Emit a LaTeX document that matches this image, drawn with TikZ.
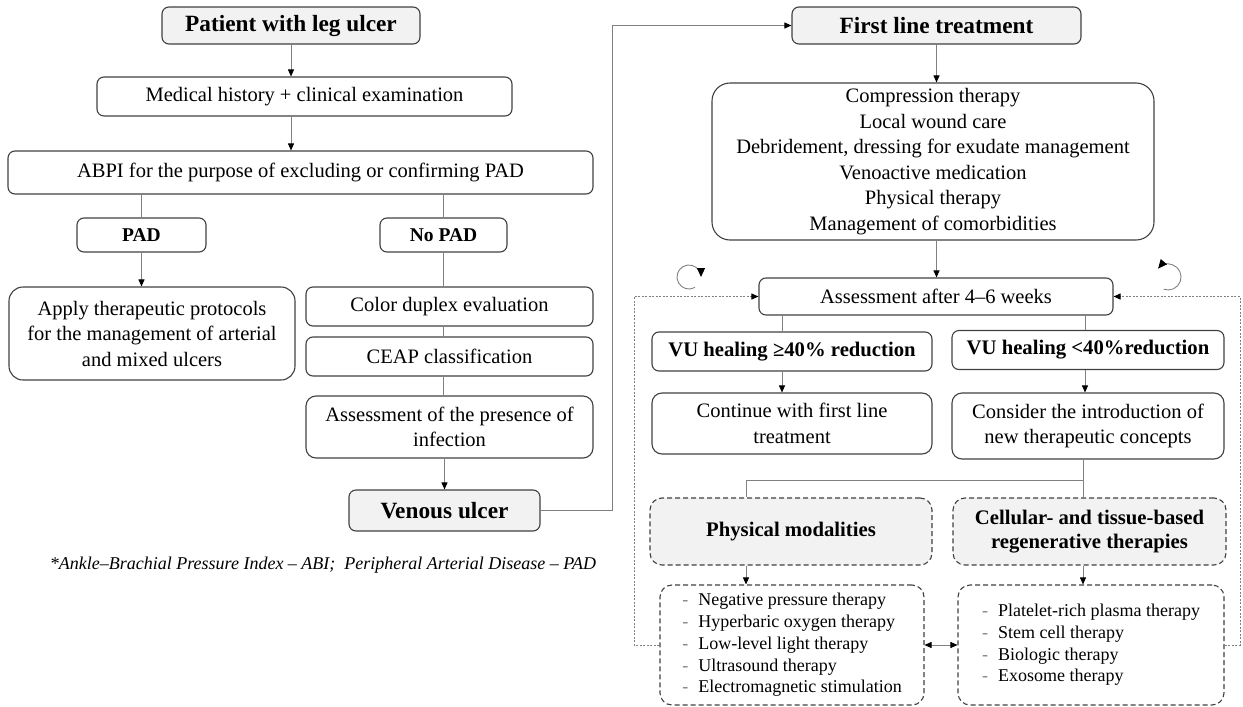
\documentclass[tikz,border=0pt]{standalone}
\usepackage{fontspec}
\setmainfont{Liberation Serif}
\usetikzlibrary{arrows.meta}

\definecolor{boxfill}{HTML}{F2F2F2}
\definecolor{edge}{HTML}{404040}
\definecolor{wire}{HTML}{808080}

\newcommand{\itm}{\makebox[16pt][l]{\textcolor{wire}{-}}}

\tikzset{
  box/.style={draw=edge, line width=1.1pt, rounded corners=7pt, align=center,
    inner sep=2pt, font=\fontsize{20.5}{25.5}\selectfont},
  headbox/.style={box, fill=boxfill, font=\fontsize{23.3}{27}\selectfont\bfseries},
  smallhead/.style={box, font=\fontsize{19.5}{23}\selectfont\bfseries},
  midhead/.style={box, font=\fontsize{20.7}{24}\selectfont\bfseries},
  dbox/.style={box, dash pattern=on 5pt off 3pt, rounded corners=12pt},
  listbox/.style={dbox, align=left, font=\fontsize{18}{21.7}\selectfont},
  conn/.style={draw=wire, line width=0.9pt},
  arr/.style={conn, -{Triangle[length=7pt,width=6pt,color=black]}},
  both/.style={conn, {Triangle[length=7pt,width=6pt,color=black]}-{Triangle[length=7pt,width=6pt,color=black]}},
  dots/.style={arr, dash pattern=on 2pt off 1.5pt},
  turn/.style={draw=wire, line width=0.9pt, -{Triangle[length=9pt,width=8pt,color=black]}}
}

\begin{document}
\begin{tikzpicture}[x=1pt,y=-1pt]
\useasboundingbox (0,0) rectangle (1243,707);

\node[headbox, minimum width=258, minimum height=37] (patient) at (291,25.5) {Patient with leg ulcer};
\node[box, minimum width=415, minimum height=39] (history) at (304.5,96.5) {Medical history + clinical examination};
\node[box, minimum width=585, minimum height=43] (abpi) at (300.5,172.5) {ABPI for the purpose of excluding or confirming PAD};
\node[smallhead, minimum width=129, minimum height=34] (pad) at (141.5,235) {PAD};
\node[smallhead, minimum width=127, minimum height=34] (nopad) at (443.5,235) {No PAD};
\node[box, rounded corners=14pt, minimum width=286, minimum height=93] (arterial) at (152,333.5) {Apply therapeutic protocols\\for the management of arterial\\and mixed ulcers};
\node[box, minimum width=287, minimum height=39] (duplex) at (449.5,306.5) {Color duplex evaluation};
\node[box, minimum width=287, minimum height=39] (ceap) at (449.5,356.5) {CEAP classification};
\node[box, rounded corners=10pt, minimum width=287, minimum height=62] (infection) at (449.5,427) {Assessment of the presence of\\infection};
\node[headbox, minimum width=191, minimum height=41] (venous) at (444.5,510.5) {Venous ulcer};
\node[font=\fontsize{18}{21}\selectfont\itshape] (note) at (323,565) {*Ankle–Brachial Pressure Index – ABI;\ \ Peripheral Arterial Disease – PAD};

\node[headbox, minimum width=289, minimum height=37] (first) at (936.5,25.5) {First line treatment};
\node[box, rounded corners=18pt, minimum width=442, minimum height=157] (care) at (933,161.5) {Compression therapy\\Local wound care\\Debridement, dressing for exudate management\\Venoactive medication\\Physical therapy\\Management of comorbidities};
\node[box, minimum width=354, minimum height=37] (assess) at (936,296.5) {Assessment after 4–6 weeks};
\node[midhead, minimum width=280, minimum height=39] (good) at (792,351.5) {VU healing ≥40\% reduction};
\node[midhead, minimum width=272, minimum height=39] (poor) at (1088,350) {VU healing <40\%reduction};
\node[box, rounded corners=10pt, minimum width=280, minimum height=61] (cont) at (792,423.5) {Continue with first line\\treatment};
\node[box, rounded corners=10pt, minimum width=272, minimum height=66] (newc) at (1088,426) {Consider the introduction of\\new therapeutic concepts};
\node[dbox, fill=boxfill, font=\fontsize{20.7}{24}\selectfont\bfseries, minimum width=282, minimum height=67] (phys) at (791,531.5) {Physical modalities};
\node[dbox, fill=boxfill, font=\fontsize{20.7}{24}\selectfont\bfseries, minimum width=273, minimum height=67] (cell) at (1089.5,531.5) {Cellular- and tissue-based\\regenerative therapies};
\node[listbox, minimum width=264, minimum height=120] (physlist) at (792,645) {\itm Negative pressure therapy\\\itm Hyperbaric oxygen therapy\\\itm Low-level light therapy\\\itm Ultrasound therapy\\\itm Electromagnetic stimulation};
\node[listbox, minimum width=266, minimum height=120] (celllist) at (1091,645) {\itm Platelet-rich plasma therapy\\\itm Stem cell therapy\\\itm Biologic therapy\\\itm Exosome therapy};

\coordinate (up) at (612,25.5);
\coordinate (gx) at (782,0);
\coordinate (px) at (1085,0);
\coordinate (split) at (1083,480);
\coordinate (pm) at (746,480);
\coordinate (lback) at (634,296.5);
\coordinate (rback) at (1240,296.5);

\draw[arr] (patient) -- (patient |- history.north);
\draw[arr] (patient |- history.south) -- (patient |- abpi.north);
\draw[conn] (pad |- abpi.south) -- (pad.north);
\draw[conn] (nopad |- abpi.south) -- (nopad.north);
\draw[arr] (pad.south) -- (pad.south |- arterial.north);
\draw[conn] (nopad.south) -- (nopad.south |- duplex.north);
\draw[conn] (nopad |- duplex.south) -- (nopad |- ceap.north);
\draw[conn] (nopad |- ceap.south) -- (nopad |- infection.north);
\draw[arr] (venous |- infection.south) -- (venous.north);
\draw[arr] (venous.east) -| (up) -- (first.west);

\draw[arr] (first) -- (first |- care.north);
\draw[arr] (first |- care.south) -- (first |- assess.north);
\draw[conn] (gx |- assess.south) -- (gx |- good.north);
\draw[conn] (px |- assess.south) -- (px |- poor.north);
\draw[arr] (gx |- good.south) -- (gx |- cont.north);
\draw[arr] (px |- poor.south) -- (px |- newc.north);
\draw[conn] (split |- newc.south) -- (split |- cell.north);
\draw[conn] (split) -- (pm) -- (pm |- phys.north);
\draw[arr] (pm |- phys.south) -- (pm |- physlist.north);
\draw[arr] (split |- cell.south) -- (split |- celllist.north);
\draw[both] (physlist.east) -- (celllist.west);
\draw[dots] (physlist.west) -| (lback) -- (assess.west);
\draw[dots] (celllist.east) -| (rback) -- (assess.east);

\draw[turn] (695,287.4) arc[start angle=60, end angle=360, radius=12];
\draw[turn] (1163.6,289.2) arc[start angle=110, end angle=-140, radius=13];
\end{tikzpicture}
\end{document}
